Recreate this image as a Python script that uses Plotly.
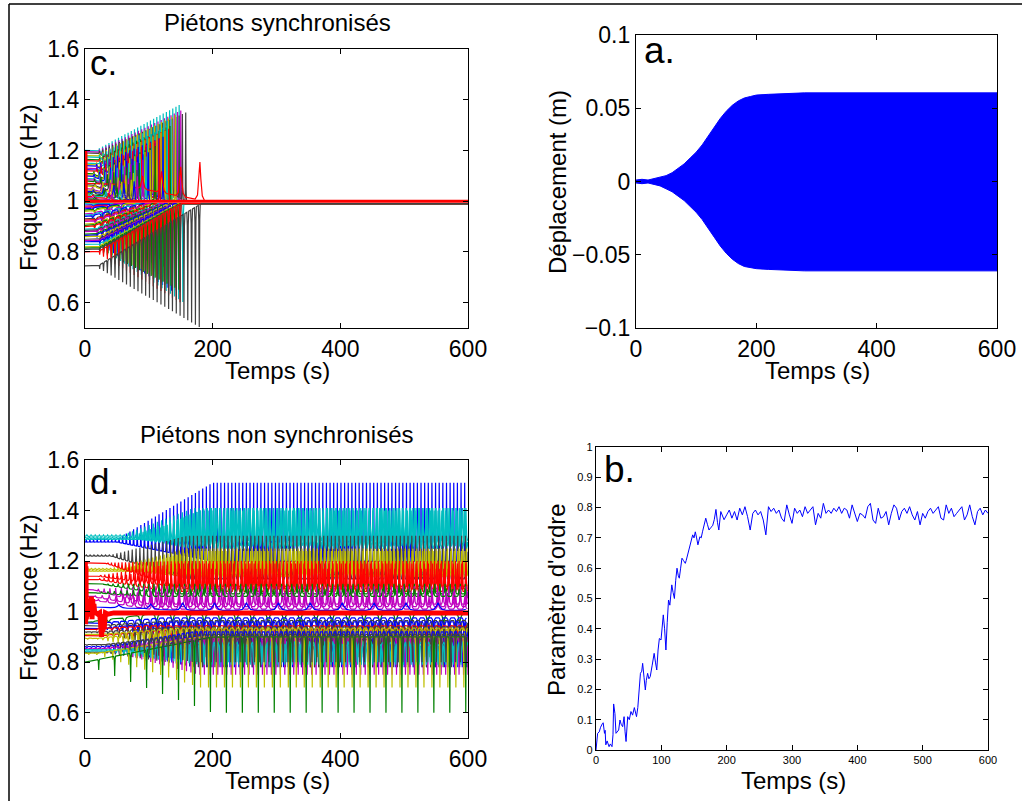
import numpy as np
import plotly.graph_objects as go

# ---------------- colours (MATLAB classic order) ----------------
COL = {'b': '#0000ff', 'g': '#008000', 'r': '#ff0000', 'c': '#00bfbf',
       'm': '#bf00bf', 'y': '#bfbf00', 'k': '#404040'}

# ---------------- panel a : displacement envelope ----------------
a_time = [0, 10, 20, 30, 40, 50, 60, 70, 80, 90, 100, 110, 120, 130, 140,
          150, 160, 170, 180, 190, 200, 220, 240, 260, 280, 600]
a_upper = [0.001, 0.0015, 0.001, 0.002, 0.003, 0.004, 0.006, 0.009, 0.012, 0.016,
           0.020, 0.025, 0.031, 0.037, 0.043, 0.048, 0.052, 0.055, 0.057, 0.058,
           0.059, 0.0595, 0.060, 0.0603, 0.0605, 0.0605]
a_lower = [-0.001, -0.0015, -0.001, -0.002, -0.003, -0.005, -0.007, -0.010, -0.013, -0.017,
           -0.021, -0.026, -0.032, -0.038, -0.044, -0.049, -0.053, -0.056, -0.058, -0.059,
           -0.0595, -0.060, -0.0603, -0.0605, -0.061, -0.061]

# ---------------- panel b : order parameter ----------------
b_time_early = [0, 1, 2.5, 5, 7, 10, 11, 13, 14, 15,
                17, 20, 22, 24.5, 26, 27, 29, 30.6, 32, 34.7,
                36.7, 38.5, 40.8, 43, 44.5, 46, 48.5, 51, 53.5, 56,
                58.7, 60.5, 62, 64, 65, 66.5, 68, 70, 71.4, 73.5,
                75.5, 77, 79, 81, 83, 86, 89, 91, 93, 95,
                97, 99.5, 101, 103, 105, 107, 109, 111, 113, 114.5,
                116, 118, 120, 122, 124, 126, 127.5, 129.5, 131.6, 134,
                136.7, 138, 140, 142, 144, 146, 148, 150, 152, 154,
                156, 159, 161, 163, 165.5, 168, 170.5, 173, 176, 178.5,
                181, 183.6, 186, 188, 191, 193.5, 196]
b_order_early = [0.0, 0.03, 0.055, 0.06, 0.075, 0.088, 0.09, 0.055, 0.065, 0.017,
                 0.03, 0.011, 0.02, 0.011, 0.05, 0.152, 0.12, 0.055, 0.06, 0.066,
                 0.099, 0.085, 0.077, 0.11, 0.06, 0.028, 0.11, 0.10, 0.127, 0.115,
                 0.14, 0.125, 0.11, 0.14, 0.165, 0.22, 0.253, 0.26, 0.286, 0.24,
                 0.198, 0.23, 0.253, 0.235, 0.242, 0.28, 0.319, 0.29, 0.264, 0.33,
                 0.368, 0.363, 0.40, 0.446, 0.40, 0.33, 0.42, 0.495, 0.478, 0.52,
                 0.545, 0.52, 0.50, 0.56, 0.60, 0.575, 0.567, 0.60, 0.633, 0.625,
                 0.616, 0.625, 0.644, 0.655, 0.671, 0.69, 0.71, 0.70, 0.72, 0.70,
                 0.677, 0.704, 0.70, 0.72, 0.74, 0.765, 0.745, 0.726, 0.735, 0.74,
                 0.76, 0.794, 0.75, 0.726, 0.787, 0.77, 0.76]
b_time_late = list(range(200, 601, 4))
b_order_late = [0.776, 0.792, 0.765, 0.787, 0.759, 0.798, 0.776, 0.803, 0.770, 0.726,
                0.781, 0.792, 0.776, 0.787, 0.759, 0.710, 0.803, 0.787, 0.798, 0.781,
                0.792, 0.765, 0.754, 0.809, 0.776, 0.748, 0.798, 0.781, 0.792, 0.770,
                0.803, 0.781, 0.792, 0.803, 0.743, 0.781, 0.765, 0.814, 0.781, 0.792,
                0.781, 0.798, 0.787, 0.803, 0.781, 0.798, 0.792, 0.765, 0.809, 0.781,
                0.754, 0.781, 0.776, 0.765, 0.803, 0.814, 0.759, 0.748, 0.798, 0.765,
                0.770, 0.787, 0.743, 0.781, 0.809, 0.798, 0.759, 0.787, 0.798, 0.781,
                0.803, 0.776, 0.759, 0.787, 0.743, 0.781, 0.765, 0.787, 0.798, 0.781,
                0.792, 0.803, 0.765, 0.759, 0.809, 0.781, 0.798, 0.770, 0.781, 0.792,
                0.803, 0.759, 0.776, 0.809, 0.770, 0.743, 0.787, 0.798, 0.776, 0.792,
                0.781]

# ---------------- panel c : synchronised pedestrians ----------------
c_start = [1.200, 1.195, 1.190, 1.180, 1.175, 1.165, 1.160, 1.150, 1.145, 1.140, 1.130,
           1.125, 1.120, 1.110, 1.105, 1.100, 1.090, 1.085, 1.080, 1.070, 1.065, 1.060,
           1.050, 1.045, 1.040, 1.035, 1.030, 1.025, 1.020, 1.015, 1.010, 1.005,
           0.995, 0.990, 0.985, 0.980, 0.975, 0.970, 0.965, 0.960, 0.950, 0.945, 0.940,
           0.930, 0.925, 0.920, 0.910, 0.905, 0.900, 0.890, 0.885, 0.880, 0.870, 0.865,
           0.860, 0.850, 0.845, 0.840, 0.830, 0.820, 0.815, 0.810, 0.800, 0.745]
c_color = ['c', 'm', 'k', 'y', 'c', 'g', 'r', 'c', 'y', 'b', 'm',
           'b', 'r', 'g', 'y', 'b', 'c', 'm', 'g', 'r', 'k', 'y',
           'm', 'y', 'b', 'k', 'g', 'c', 'r', 'm', 'g', 'k',
           'g', 'c', 'b', 'r', 'm', 'b', 'g', 'y', 'm', 'c', 'b',
           'k', 'r', 'm', 'y', 'g', 'r', 'c', 'k', 'm', 'g', 'b',
           'y', 'k', 'm', 'b', 'c', 'y', 'g', 'k', 'r', 'k']
c_onset = [20, 20, 20, 20, 20, 20, 20, 20, 15, 15, 15,
           15, 15, 10, 10, 10, 10, 10, 10, 45, 10, 10,
           5, 5, 5, 5, 0, 0, 0, 0, 0, 0,
           0, 0, 0, 0, 0, 0, 5, 5, 5, 5, 5,
           10, 10, 10, 10, 10, 10, 15, 15, 15, 15, 15,
           20, 20, 20, 20, 20, 20, 20, 20, 20, 20]
c_lock_time = [148, 152, 158, 142, 140, 136, 135, 130, 128, 128, 122,
               120, 118, 112, 110, 106, 100, 98, 95, 190, 90, 88,
               85, 82, 80, 75, 70, 65, 60, 50, 40, 30,
               30, 40, 45, 55, 58, 60, 65, 70, 80, 85, 90,
               95, 98, 100, 105, 108, 110, 115, 118, 120, 125, 128,
               130, 135, 138, 140, 155, 145, 148, 150, 150, 182]
c_extreme = [1.38, 1.36, 1.35, 1.34, 1.33, 1.30, 1.29, 1.30, 1.28, 1.26, 1.25,
             1.24, 1.25, 1.22, 1.21, 1.20, 1.18, 1.17, 1.16, 1.16, 1.13, 1.12,
             1.10, 1.09, 1.08, 1.07, 1.06, 1.05, 1.04, 1.03, 1.02, 1.01,
             0.99, 0.98, 0.97, 0.96, 0.95, 0.94, 0.93, 0.92, 0.90, 0.89, 0.87,
             0.86, 0.85, 0.84, 0.82, 0.81, 0.80, 0.78, 0.77, 0.76, 0.74, 0.73,
             0.72, 0.70, 0.68, 0.64, 0.60, 0.66, 0.65, 0.64, 0.60, 0.50]
c_period = [5.0, 5.1, 5.2, 5.4, 5.6, 5.8, 6.0, 6.2, 6.3, 6.5, 7,
            7, 7, 8, 8, 8.5, 9, 9.5, 10, 30, 11, 12,
            14, 15, 16, 18, 20, 22, 25, 28, 30, 30,
            30, 30, 28, 25, 24, 22, 21, 20, 16, 15, 14,
            13, 12.5, 12, 11, 10.5, 10, 9, 8.8, 8.5, 8, 7.8,
            7.5, 7, 7, 7, 6.5, 6.3, 6.2, 6, 6, 6]
c_final = [1.0] * 32 + [0.99] * 32
c_bridge_time = [0, 0.5, 1.0, 1.5, 2.0, 3, 5, 600]
c_bridge_freq = [1.0, 1.2, 1.0, 1.19, 1.02, 1.0, 1.0, 1.0]

# ---------------- panel d : non-synchronised pedestrians ----------------
d_start = [1.275, 1.298, 1.290, 1.285, 1.220, 1.167, 1.160, 1.193, 1.127, 1.140, 1.111,
           1.088, 1.075, 1.046, 1.060, 1.020,
           0.958, 0.955, 0.945, 0.934, 0.930, 0.905, 0.895, 0.920, 0.910,
           0.862, 0.840, 0.855, 0.845, 0.850, 0.836, 0.800, 0.870]
d_color = ['b', 'c', 'c', 'c', 'k', 'y', 'y', 'r', 'r', 'r', 'g',
           'm', 'g', 'm', 'm', 'b',
           'g', 'b', 'k', 'b', 'r', 'r', 'y', 'k', 'y',
           'b', 'k', 'm', 'c', 'c', 'y', 'g', 'k']
d_inner = [1.20, 1.25, 1.26, 1.28, 1.13, 1.14, 1.15, 1.09, 1.08, 1.10, 1.07,
           1.03, 1.06, 1.01, 1.02, 1.005,
           0.99, 0.975, 0.965, 0.96, 0.945, 0.93, 0.93, 0.94, 0.935,
           0.92, 0.89, 0.90, 0.88, 0.87, 0.90, 0.90, 0.91]
d_outer = [1.51, 1.41, 1.40, 1.41, 1.30, 1.25, 1.24, 1.20, 1.17, 1.19, 1.11,
           1.10, 1.09, 1.06, 1.08, 1.035,
           0.955, 0.925, 0.89, 0.90, 0.92, 0.88, 0.82, 0.85, 0.86,
           0.78, 0.78, 0.75, 0.79, 0.80, 0.70, 0.60, 0.80]
d_period = [5.7, 6.5, 6.0, 5.2, 6.0, 6.0, 5.5, 5.5, 7.0, 6.5, 8,
            9, 10, 14, 11, 50,
            25, 12, 9, 8, 12, 10, 8, 8.5, 9.5,
            7, 6.5, 7, 6, 6.5, 12.5, 25, 7.5]
d_pulse_width = [2.5, 6.0, 5.5, 5.0, 3.5, 4, 4, 3.5, 4.5, 4, 5,
                 5, 6, 8, 7, 26,
                 12, 7, 5, 5, 8, 6, 5, 5, 6,
                 4, 4, 3.5, 5.5, 5.5, 3, 3, 4]
d_ramp_begin = [50, 60, 70, 80, 40, 40, 50, 30, 20, 20, 20,
                10, 10, 10, 10, 0,
                0, 20, 20, 20, 0, 20, 20, 20, 20,
                30, 30, 30, 30, 40, 20, 0, 30]
d_ramp_end = [200, 170, 180, 190, 160, 160, 170, 150, 130, 140, 120,
              100, 100, 100, 100, 150,
              100, 120, 150, 140, 100, 140, 160, 150, 150,
              170, 180, 180, 180, 180, 180, 200, 170]
d_first_peak = [2, 3, 1, 4, 2, 4, 1, 3, 2, 5, 4,
                3, 6, 7, 5, 3,
                12, 6, 4, 3, 6, 5, 4, 2, 7,
                3, 2, 5, 1, 4, 6, 21.5, 3]
d_bridge_time = [0, 0.5, 1.0, 1.5, 2.0, 3, 5, 7, 8, 9, 10, 11, 12, 13, 14, 15, 17, 20,
                 23, 24, 25, 26, 27, 28, 29, 30, 32, 36, 45, 60, 600]
d_bridge_freq = [1.0, 1.20, 0.95, 1.18, 0.97, 1.0, 0.99, 1.0, 1.05, 0.98, 1.06, 0.97, 1.05,
                 0.99, 1.03, 1.0, 0.995, 0.99, 0.995, 0.91, 0.98, 0.90, 0.97, 0.92, 0.99,
                 0.93, 0.995, 0.99, 0.995, 0.995, 0.995]

# outline of one phase-slip pulse (offsets in half-widths, relative height)
PULSE_U = [-1.0, -0.5, -0.2, 0.0, 0.2, 0.5, 1.0]
PULSE_H = [0.0, 0.12, 0.55, 1.0, 0.55, 0.12, 0.0]
C_PULSE_FRAC = 0.5

FONT = "Liberation Sans, Arial, Helvetica, sans-serif"
W, H = 1022, 801


def px(x):
    return x / W


def py(y):
    return 1 - y / H


def pulse_samples(first_peak, t_end, period, width):
    peaks = np.arange(first_peak, t_end, period)
    ts = (peaks[:, None] + np.array(PULSE_U)[None, :] * width / 2.0).ravel()
    hs = np.tile(PULSE_H, len(peaks))
    return ts, hs


def locking_path(f0, onset, t_lock, f_ext, period, f_fin):
    ts, hs = pulse_samples(onset + period / 2.0, t_lock, period, period * C_PULSE_FRAC)
    frac = np.clip((ts - onset) / (t_lock - onset), 0, 1)
    outer = f0 + (f_ext - f0) * (0.03 + 0.97 * frac)
    inner = f0 + (f_fin - f0) * frac
    ys = inner + hs * (outer - inner)
    end = ts[-1] if len(ts) else t_lock
    ts = np.concatenate([[0.0], ts, [end + period * 0.3, 600]])
    ys = np.concatenate([[f0], ys, [f_fin, f_fin]])
    return ts, ys


def drifting_path(f0, inner_s, outer_s, period, width, r0, r1, first_peak):
    ts, hs = pulse_samples(first_peak, 600 + period, period, width)
    frac = np.clip((ts - r0) / max(r1 - r0, 1e-9), 0, 1)
    inner = f0 + (inner_s - f0) * frac
    outer = f0 + (outer_s - f0) * (0.05 + 0.95 * frac)
    ys = inner + hs * (outer - inner)
    keep = (ts > 0) & (ts <= 600)
    ts = np.concatenate([[0.0], ts[keep]])
    ys = np.concatenate([[f0], ys[keep]])
    return ts, ys


fig = go.Figure()

# panel c traces
for i in range(len(c_start)):
    t, f = locking_path(c_start[i], c_onset[i], c_lock_time[i], c_extreme[i],
                        c_period[i], c_final[i])
    fig.add_trace(go.Scatter(x=t, y=f, mode="lines", xaxis="x", yaxis="y",
                             line=dict(color=COL[c_color[i]], width=1.2),
                             hoverinfo="skip"))
fig.add_trace(go.Scatter(x=c_bridge_time, y=c_bridge_freq, mode="lines", xaxis="x", yaxis="y",
                         line=dict(color=COL['r'], width=3), hoverinfo="skip"))

# panel a
fig.add_trace(go.Scatter(x=a_time + a_time[::-1], y=a_upper + a_lower[::-1], mode="lines",
                         fill="toself", fillcolor=COL['b'], xaxis="x2", yaxis="y2",
                         line=dict(color=COL['b'], width=1), hoverinfo="skip"))

# panel d traces
for i in range(len(d_start)):
    t, f = drifting_path(d_start[i], d_inner[i], d_outer[i], d_period[i], d_pulse_width[i],
                         d_ramp_begin[i], d_ramp_end[i], d_first_peak[i])
    fig.add_trace(go.Scatter(x=t, y=f, mode="lines", xaxis="x3", yaxis="y3",
                             line=dict(color=COL[d_color[i]], width=1.2),
                             hoverinfo="skip"))
fig.add_trace(go.Scatter(x=d_bridge_time, y=d_bridge_freq, mode="lines", xaxis="x3", yaxis="y3",
                         line=dict(color=COL['r'], width=5), hoverinfo="skip"))

# panel b
fig.add_trace(go.Scatter(x=b_time_early + b_time_late, y=b_order_early + b_order_late,
                         mode="lines", xaxis="x4", yaxis="y4",
                         line=dict(color=COL['b'], width=1), hoverinfo="skip"))

axis_common = dict(showline=True, linecolor="black", linewidth=1.3, mirror="allticks",
                   ticks="inside", ticklen=5, tickcolor="black", tickwidth=1,
                   showgrid=False, zeroline=False, fixedrange=True, automargin=False)
big = dict(family=FONT, size=23, color="black")
small = dict(family=FONT, size=11, color="black")

freq_ticks = [0.6, 0.8, 1.0, 1.2, 1.4, 1.6]
freq_text = ["0.6", "0.8", "1", "1.2", "1.4", "1.6"]
time_ticks = [0, 200, 400, 600]

fig.update_layout(
    width=W, height=H, margin=dict(l=0, r=0, t=0, b=0, pad=0, autoexpand=False),
    paper_bgcolor="white", plot_bgcolor="white", showlegend=False,
    xaxis=dict(domain=[px(85), px(468)], range=[0, 600], tickvals=time_ticks,
               tickfont=big, anchor="y", **axis_common),
    yaxis=dict(domain=[py(328), py(49)], range=[0.5, 1.6], tickvals=freq_ticks,
               ticktext=freq_text, tickfont=big, anchor="x", **axis_common),
    xaxis2=dict(domain=[px(636), px(997)], range=[0, 600], tickvals=time_ticks,
                tickfont=big, anchor="y2", **axis_common),
    yaxis2=dict(domain=[py(328), py(35)], range=[-0.1, 0.1],
                tickvals=[-0.1, -0.05, 0, 0.05, 0.1],
                ticktext=["\u22120.1", "\u22120.05", "0", "0.05", "0.1"],
                tickfont=big, anchor="x2", **axis_common),
    xaxis3=dict(domain=[px(85), px(468)], range=[0, 600], tickvals=time_ticks,
                tickfont=big, anchor="y3", **axis_common),
    yaxis3=dict(domain=[py(738), py(460)], range=[0.5, 1.6], tickvals=freq_ticks,
                ticktext=freq_text, tickfont=big, anchor="x3", **axis_common),
    xaxis4=dict(domain=[px(596), px(988)], range=[0, 600],
                tickvals=[0, 100, 200, 300, 400, 500, 600], tickfont=small,
                anchor="y4", **axis_common),
    yaxis4=dict(domain=[py(750), py(447)], range=[0, 1],
                tickvals=[0, 0.1, 0.2, 0.3, 0.4, 0.5, 0.6, 0.7, 0.8, 0.9, 1],
                ticktext=["0", "0.1", "0.2", "0.3", "0.4", "0.5", "0.6", "0.7",
                          "0.8", "0.9", "1"],
                tickfont=small, anchor="x4", **axis_common),
)


def label(text, x, y, size, angle=0, xanchor="center"):
    fig.add_annotation(text=text, x=px(x), y=py(y), xref="paper", yref="paper",
                       showarrow=False, textangle=angle, xanchor=xanchor, yanchor="middle",
                       font=dict(family=FONT, size=size, color="black"))


label("Piétons synchronisés", 277, 23, 24)
label("Temps (s)", 277, 370, 24)
label("Fréquence (Hz)", 28, 188, 24, angle=-90)
label("Temps (s)", 817, 370, 24)
label("Déplacement (m)", 557, 182, 24, angle=-90)
label("Piétons non synchronisés", 277, 434, 24)
label("Temps (s)", 277, 780, 24)
label("Fréquence (Hz)", 28, 598, 24, angle=-90)
label("Temps (s)", 793, 780, 24)
label("Paramètre d'ordre", 556, 600, 24, angle=-90)
label("c.", 88, 63, 35, xanchor="left")
label("d.", 88, 481, 35, xanchor="left")
label("a.", 642, 50, 37, xanchor="left")
label("b.", 602, 469, 37, xanchor="left")

# outer frame fragments (left and top edges)
fig.add_shape(type="line", xref="paper", yref="paper", x0=px(9), x1=px(9), y0=0, y1=py(4),
              line=dict(color="black", width=1.5))
fig.add_shape(type="line", xref="paper", yref="paper", x0=px(9), x1=1, y0=py(4), y1=py(4),
              line=dict(color="black", width=1.5))

fig.write_html("out.html",
               config={"displayModeBar": False},
               post_script="document.body.style.margin='0px';"
                           "document.body.style.padding='0px';"
                           "document.body.style.overflow='hidden';")
